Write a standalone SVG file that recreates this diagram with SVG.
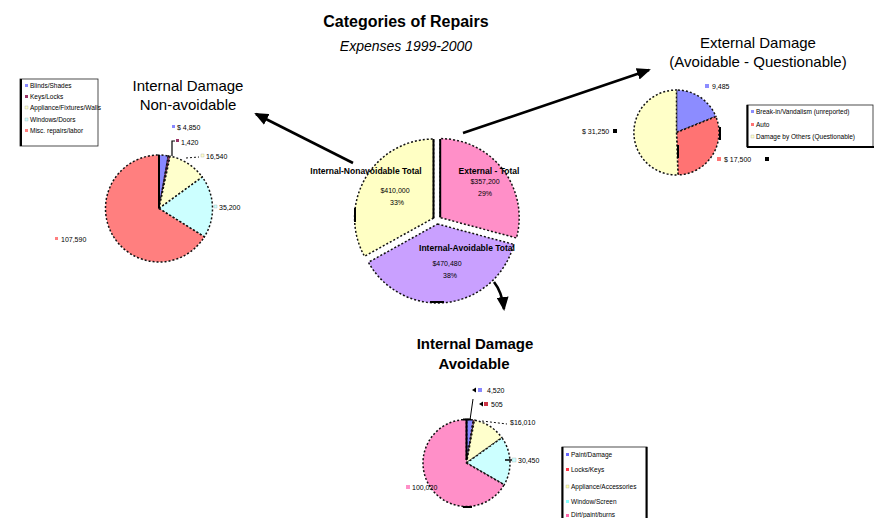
<svg xmlns="http://www.w3.org/2000/svg" width="874" height="518" viewBox="0 0 874 518">
<style>
text{font-family:"Liberation Sans",Arial,sans-serif;fill:#000}
.ttl{font-size:16px;font-weight:bold}
.sub{font-size:14px;font-style:italic}
.ct{font-size:15px}
.ctb{font-size:15px;font-weight:bold}
.lb{font-size:8.5px;font-weight:bold}
.sm{font-size:7px}
.lg{font-size:6.5px}
.sl{stroke:#111;stroke-width:1.5;stroke-dasharray:2 2}
.solid{stroke:#000;stroke-width:2;fill:none}
.arr{stroke:#000;stroke-width:2.6;fill:none}
.box{fill:#fff;stroke:#222;stroke-width:0.8}
</style>
<defs>
<marker id="ah" markerUnits="userSpaceOnUse" markerWidth="14" markerHeight="12" refX="12" refY="6" orient="auto">
<path d="M0,0 L14,6 L0,12 Z" fill="#000"/>
</marker>
</defs>
<rect width="874" height="518" fill="#fff"/>

<g id="title">
<text class="ttl" x="406" y="27" text-anchor="middle">Categories of Repairs</text>
<text class="sub" x="406" y="51" text-anchor="middle">Expenses 1999-2000</text>
</g>

<g id="connectors">
<line class="arr" x1="353" y1="163" x2="256" y2="114" marker-end="url(#ah)"/>
<line class="arr" x1="463" y1="133" x2="649" y2="70" marker-end="url(#ah)"/>
<path class="arr" d="M494,282 Q502,292 504,309" marker-end="url(#ah)"/>
</g>

<g id="center-pie">
<path class="sl" fill="#FFFFC4" d="M433.55,218 L364.5,256.3 A79,79 0 0 1 433.55,139 Z"/>
<path class="sl" fill="#FF8FC8" d="M440.2,217.6 L440.2,138.6 A79,79 0 0 1 516.5,238 Z"/>
<path class="sl" fill="#C9A0FF" d="M437.5,224 L513.8,244.4 A79,79 0 0 1 368.4,262.3 Z"/>
<line class="solid" x1="433.5" y1="139" x2="433.5" y2="218"/>
<line class="solid" x1="440.2" y1="139" x2="440.2" y2="217"/>
<line class="solid" x1="355" y1="208" x2="355" y2="222"/>
<line class="solid" x1="430" y1="302" x2="444" y2="302"/>
<text class="lb" x="366" y="174" text-anchor="middle">Internal-Nonavoidable Total</text>
<text class="sm" x="395" y="193" text-anchor="middle">$410,000</text>
<text class="sm" x="397" y="205" text-anchor="middle">33%</text>
<text class="lb" x="489" y="174" text-anchor="middle">External - Total</text>
<text class="sm" x="485" y="184" text-anchor="middle">$357,200</text>
<text class="sm" x="485" y="196" text-anchor="middle">29%</text>
<text class="lb" x="467" y="251" text-anchor="middle">Internal-Avoidable Total</text>
<text class="sm" x="447" y="266" text-anchor="middle">$470,480</text>
<text class="sm" x="450" y="278" text-anchor="middle">38%</text>
</g>

<g id="left-pie">
<text class="ct" x="188" y="91" text-anchor="middle">Internal Damage</text>
<text class="ct" x="188" y="110" text-anchor="middle">Non-avoidable</text>
<path class="sl" fill="#8888FF" d="M159,208.5 L159,155 A53.5,53.5 0 0 1 168.29,155.81 Z"/>
<path class="sl" fill="#993366" d="M159,208.5 L168.29,155.81 A53.5,53.5 0 0 1 170.12,156.17 Z"/>
<path class="sl" fill="#FFFFCC" d="M159,208.5 L170.12,156.17 A53.5,53.5 0 0 1 202.28,177.05 Z"/>
<path class="sl" fill="#CCFFFF" d="M159,208.5 L202.28,177.05 A53.5,53.5 0 0 1 204.37,236.85 Z"/>
<path class="sl" fill="#FF7F7F" d="M159,208.5 L204.37,236.85 A53.5,53.5 0 1 1 159,155 Z"/>
<line class="solid" x1="159" y1="155" x2="159" y2="208"/>
<rect x="172" y="125" width="3" height="3" fill="#8888FF"/>
<text class="sm" x="177" y="130">$ 4,850</text>
<path d="M172,156 L172,141 L175,141" stroke="#000" stroke-width="1.2" fill="none"/>
<rect x="176" y="139" width="3" height="3" fill="#993366"/>
<text class="sm" x="181" y="145">1,420</text>
<path d="M186,158 L199,157" stroke="#111" stroke-width="1" stroke-dasharray="2 2"/>
<rect x="201" y="154" width="3" height="3" fill="#FFFFCC" stroke="#999" stroke-width="0.3"/>
<text class="sm" x="206" y="159">16,540</text>
<rect x="214" y="205" width="3" height="3" fill="#CCFFFF" stroke="#999" stroke-width="0.3"/>
<text class="sm" x="219" y="210">35,200</text>
<rect x="55" y="237" width="3" height="3" fill="#FF7F7F"/>
<text class="sm" x="61" y="242">107,590</text>
</g>

<g id="left-legend">
<rect class="box" x="20" y="79" width="78" height="67"/>
<line x1="21" y1="79" x2="21" y2="146" stroke="#000" stroke-width="2"/>
<rect x="25" y="84" width="3" height="3" fill="#8888FF"/>
<text class="lg" x="30" y="88">Blinds/Shades</text>
<rect x="25" y="95" width="3" height="3" fill="#993366"/>
<text class="lg" x="30" y="99">Keys/Locks</text>
<rect x="25" y="106" width="3" height="3" fill="#FFFFCC" stroke="#999" stroke-width="0.3"/>
<text class="lg" x="30" y="110">Appliance/Fixtures/Walls</text>
<rect x="25" y="118" width="3" height="3" fill="#CCFFFF" stroke="#999" stroke-width="0.3"/>
<text class="lg" x="30" y="122">Windows/Doors</text>
<rect x="25" y="129" width="3" height="3" fill="#FF7F7F"/>
<text class="lg" x="30" y="133">Misc. repairs/labor</text>
</g>

<g id="right-pie">
<text class="ct" x="758" y="48" text-anchor="middle">External Damage</text>
<text class="ct" x="758" y="67" text-anchor="middle">(Avoidable - Questionable)</text>
<path class="sl" fill="#8C8CFF" d="M676.5,132.5 L676.5,90 A42.5,42.5 0 0 1 715.9,116.58 Z"/>
<path class="sl" fill="#FF7373" d="M676.5,132.5 L715.9,116.58 A42.5,42.5 0 0 1 677.98,174.97 Z"/>
<path class="sl" fill="#FFFFC8" d="M676.5,132.5 L677.98,174.97 A42.5,42.5 0 1 1 676.5,90 Z"/>
<line class="solid" x1="720" y1="127" x2="720" y2="140"/>
<line class="solid" x1="678" y1="145" x2="678" y2="158"/>
<rect x="705" y="84" width="4" height="4" fill="#8C8CFF"/>
<text class="sm" x="712" y="89">9,485</text>
<text class="sm" x="582" y="134">$ 31,250</text>
<rect x="613" y="129" width="4" height="4" fill="#000"/>
<rect x="717" y="157" width="4" height="4" fill="#FF7373"/>
<text class="sm" x="724" y="162">$ 17,500</text>
<rect x="765" y="157" width="4" height="4" fill="#000"/>
</g>

<g id="right-legend">
<rect class="box" x="747" y="105" width="126" height="42"/>
<line x1="747.5" y1="105" x2="747.5" y2="147" stroke="#000" stroke-width="2"/>
<line x1="747" y1="147" x2="874" y2="147" stroke="#000" stroke-width="2"/>
<rect x="751" y="110" width="3" height="3" fill="#8C8CFF"/>
<text class="lg" x="756" y="114">Break-in/Vandalism (unreported)</text>
<rect x="751" y="123" width="3" height="3" fill="#FF7373"/>
<text class="lg" x="756" y="127">Auto</text>
<rect x="751" y="135" width="3" height="3" fill="#FFFFC8" stroke="#999" stroke-width="0.3"/>
<text class="lg" x="756" y="139">Damage by Others (Questionable)</text>
</g>

<g id="bottom-pie">
<text class="ctb" x="475" y="349" text-anchor="middle">Internal Damage</text>
<text class="ctb" x="474" y="369" text-anchor="middle">Avoidable</text>
<path class="sl" fill="#8888FF" d="M466.5,463 L466.5,419.5 A43.5,43.5 0 0 1 473.3,420.04 Z"/>
<path class="sl" fill="#CC3344" d="M466.5,463 L473.3,420.04 A43.5,43.5 0 0 1 474.43,420.23 Z"/>
<path class="sl" fill="#FFFFCC" d="M466.5,463 L474.43,420.23 A43.5,43.5 0 0 1 501.91,437.74 Z"/>
<path class="sl" fill="#CCFFFF" d="M466.5,463 L501.91,437.74 A43.5,43.5 0 0 1 504.17,484.75 Z"/>
<path class="sl" fill="#FF8FC8" d="M466.5,463 L504.17,484.75 A43.5,43.5 0 1 1 466.5,419.5 Z"/>
<line class="solid" x1="466.5" y1="419" x2="466.5" y2="460"/>
<line class="solid" x1="463" y1="419.5" x2="471" y2="419.5"/>
<line class="solid" x1="463" y1="507" x2="472" y2="507"/>
<line x1="470" y1="420" x2="473" y2="399" stroke="#000" stroke-width="1"/>
<path d="M472,390 L476,387.5 L476,392.5 Z" fill="#000"/>
<rect x="478" y="388" width="4" height="4" fill="#8888FF"/>
<text class="sm" x="487" y="393">4,520</text>
<path d="M479,404 L483,401.5 L483,406.5 Z" fill="#000"/>
<rect x="484" y="402" width="4" height="4" fill="#CC3344"/>
<text class="sm" x="491" y="407">505</text>
<path d="M482,421 L507,424" stroke="#111" stroke-width="1" stroke-dasharray="2 2"/>
<text class="sm" x="510" y="425">$16,010</text>
<line x1="505" y1="460" x2="512" y2="460" stroke="#000" stroke-width="1.5"/>
<rect x="512" y="458" width="4" height="4" fill="#CCFFFF" stroke="#999" stroke-width="0.3"/>
<text class="sm" x="518" y="463">30,450</text>
<rect x="406" y="485" width="4" height="4" fill="#FF8FC8"/>
<text class="sm" x="412" y="490">100,020</text>
</g>

<g id="bottom-legend">
<rect class="box" x="562" y="447" width="85" height="75"/>
<line x1="562.5" y1="447" x2="562.5" y2="518" stroke="#000" stroke-width="2"/>
<line x1="646.5" y1="447" x2="646.5" y2="518" stroke="#000" stroke-width="2"/>
<rect x="566" y="453" width="3" height="3" fill="#6666FF"/>
<text class="lg" x="571" y="457">Paint/Damage</text>
<rect x="566" y="468" width="3" height="3" fill="#FF3344"/>
<text class="lg" x="571" y="472">Locks/Keys</text>
<rect x="566" y="485" width="3" height="3" fill="#FFFFAA" stroke="#999" stroke-width="0.3"/>
<text class="lg" x="571" y="489">Appliance/Accessories</text>
<rect x="566" y="500" width="3" height="3" fill="#88FFFF"/>
<text class="lg" x="571" y="504">Window/Screen</text>
<rect x="566" y="514" width="3" height="3" fill="#FF66AA"/>
<text class="lg" x="571" y="517">Dirt/paint/burns</text>
</g>
</svg>
